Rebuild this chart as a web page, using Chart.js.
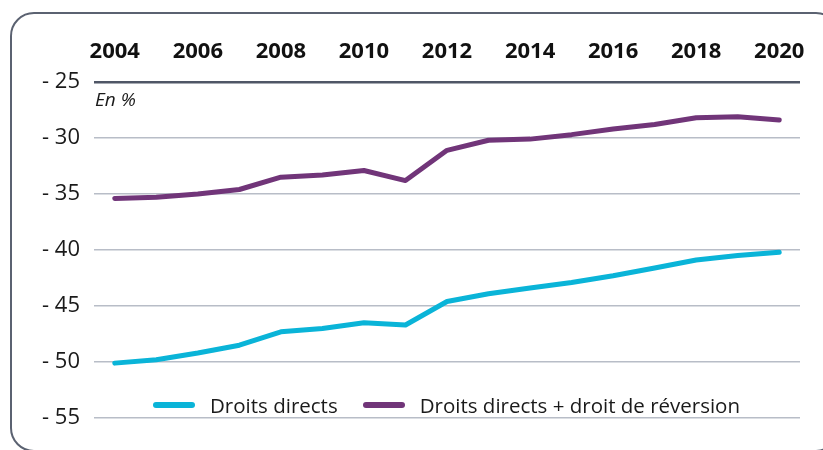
<!DOCTYPE html>
<html>
<head>
<meta charset="utf-8">
<script src="https://cdn.jsdelivr.net/npm/chart.js@4/dist/chart.umd.min.js"></script>
<style>
  html, body { margin: 0; padding: 0; background: #fff; overflow: hidden; }
  #wrap { position: relative; width: 823px; height: 450px; }
  #frame {
    position: absolute; left: 10px; top: 12px; width: 830px; height: 440px;
    border: 2.5px solid #5b6271; border-radius: 24px; box-sizing: border-box;
  }
  #unit {
    position: absolute; left: 95px; top: 86px;
    font: italic 19px "Open Sans", sans-serif; color: #1a1a1a;
  }
  #legend {
    position: absolute; left: 153px; top: 391px; display: flex; align-items: center;
    font: 20.5px "Open Sans", sans-serif; color: #1a1a1a;
  }
  #legend span.sw { display: inline-block; width: 42px; height: 6px; border-radius: 3px; margin-right: 15px; }
  #legend span.lbl { margin-right: 25px; }
</style>
</head>
<body>
<div id="wrap">
  <div id="frame"></div>
  <canvas id="chart" width="823" height="450"></canvas>
  <div id="unit">En %</div>
  <div id="legend"></div>
</div>
<script>
// --- Data ---
const years = ['2004', '2005', '2006', '2007', '2008', '2009', '2010', '2011', '2012',
               '2013', '2014', '2015', '2016', '2017', '2018', '2019', '2020'];
const droitsDirects = [-50.1, -49.8, -49.2, -48.5, -47.3, -47.0, -46.5, -46.7, -44.6,
                       -43.9, -43.4, -42.9, -42.3, -41.6, -40.9, -40.5, -40.2];
const droitsReversion = [-35.4, -35.3, -35.0, -34.6, -33.5, -33.3, -32.9, -33.8, -31.1,
                         -30.2, -30.1, -29.7, -29.2, -28.8, -28.2, -28.1, -28.4];
const seriesLabels = ['Droits directs', 'Droits directs + droit de réversion'];
const seriesColors = ['#0ab4d8', '#713579'];
const yTicks = [-55, -50, -45, -40, -35, -30, -25];

const ctx = document.getElementById('chart').getContext('2d');
const chart = new Chart(ctx, {
    type: 'line',
    data: {
        labels: years,
        datasets: [
            { label: seriesLabels[0], data: droitsDirects, borderColor: seriesColors[0] },
            { label: seriesLabels[1], data: droitsReversion, borderColor: seriesColors[1] }
        ]
    },
    options: {
        responsive: false,
        animation: false,
        layout: { padding: { left: 0, right: 23, top: 0, bottom: 32 } },
        elements: {
            line: { borderWidth: 5, tension: 0, borderCapStyle: 'round', borderJoinStyle: 'round' },
            point: { radius: 0 }
        },
        plugins: { legend: { display: false }, tooltip: { enabled: false } },
        scales: {
            x: {
                position: 'top',
                offset: true,
                grid: { display: false, drawTicks: false },
                border: { display: false },
                afterFit: (s) => { s.height = 82; },
                ticks: {
                    autoSkip: false,
                    maxRotation: 0,
                    padding: 17,
                    color: '#111',
                    font: { family: '"Open Sans", sans-serif', size: 22, weight: 'bold' },
                    callback: function (v, i) { return i % 2 === 0 ? this.getLabelForValue(v) : ''; }
                }
            },
            y: {
                min: -55, max: -25,
                afterFit: (s) => { s.width = 94; },
                afterBuildTicks: (s) => { s.ticks = yTicks.map(v => ({ value: v })); },
                grid: {
                    drawTicks: false,
                    color: (c) => c.tick && c.tick.value === -25 ? '#4f5666' : '#b8bdc7',
                    lineWidth: (c) => c.tick && c.tick.value === -25 ? 2.5 : 1.5
                },
                border: { display: false },
                ticks: {
                    padding: 14,
                    color: '#1a1a1a',
                    font: { family: '"Open Sans", sans-serif', size: 22 },
                    callback: (v) => '- ' + Math.abs(v)
                }
            }
        }
    }
});

// HTML legend from the datasets
const legendEl = document.getElementById('legend');
chart.data.datasets.forEach((ds) => {
    legendEl.insertAdjacentHTML('beforeend',
        '<span class="sw" style="background:' + ds.borderColor + '"></span><span class="lbl">' + ds.label + '</span>');
});
</script>
</body>
</html>
